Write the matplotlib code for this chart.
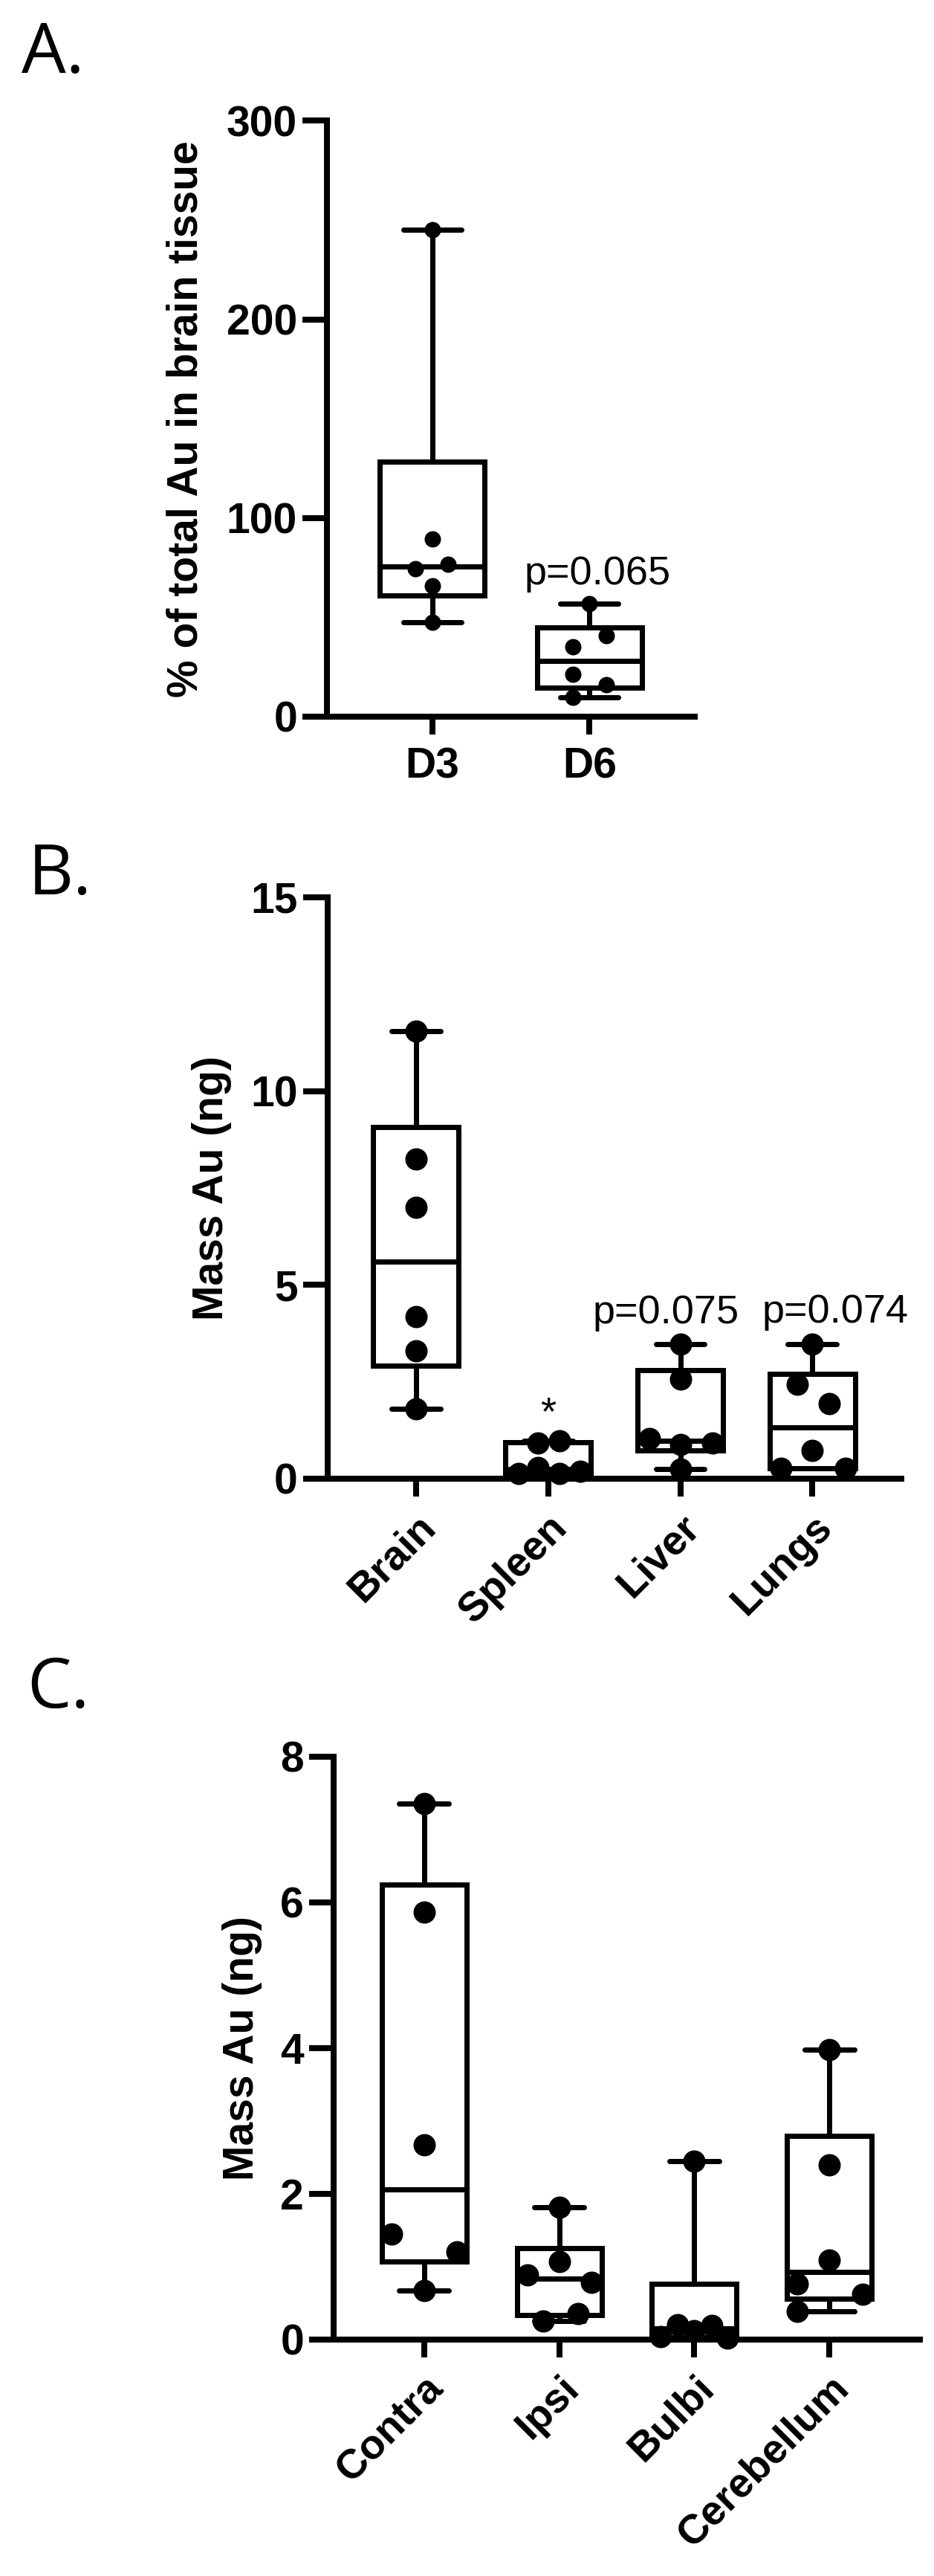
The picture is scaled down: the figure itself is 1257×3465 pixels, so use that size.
import numpy as np
import matplotlib
matplotlib.use("Agg")
import matplotlib.pyplot as plt

# ---------------- data ----------------
# Panel A
a_categories = ["D3", "D6"]
a_d3 = [245.3, 89.4, 74.4, 76.9, 65.7, 47.6]
a_d6 = [57.0, 40.8, 35.2, 21.2, 16.2, 9.6]
a_yticks = [0, 100, 200, 300]
a_ylabel = "% of total Au in brain tissue"
a_ptext = ["", "p=0.065"]
a_pvalue_y = [0, 66.6]

# Panel B
b_categories = ["Brain", "Spleen", "Liver", "Lungs"]
b_brain = [11.55, 8.25, 7.01, 4.19, 3.30, 1.80]
b_spleen = [0.92, 0.97, 0.13, 0.29, 0.13, 0.19]
b_liver = [3.47, 2.57, 1.04, 0.88, 0.93, 0.24]
b_lungs = [3.47, 2.44, 1.93, 0.72, 0.27, 0.27]
b_yticks = [0, 5, 10, 15]
b_ylabel = "Mass Au (ng)"
b_ptext = ["", "*", "p=0.075", "p=0.074"]
b_pvalue_y = [0, 1.40, 4.0, 4.03]

# Panel C
c_categories = ["Contra", "Ipsi", "Bulbi", "Cerebellum"]
c_contra = [7.36, 5.87, 2.67, 1.45, 1.20, 0.67]
c_ipsi = [1.82, 1.07, 0.89, 0.79, 0.26, 0.36]
c_bulbi = [2.45, 0.04, 0.20, 0.12, 0.19, 0.02]
c_cerebellum = [3.98, 2.40, 1.09, 0.77, 0.62, 0.385]
c_yticks = [0, 2, 4, 6, 8]
c_ylabel = "Mass Au (ng)"

# ---------------- layout / style (not data) ----------------
a_jitter = [[0, 0, -0.107, 0.10, 0, 0], [0, 0.107, -0.107, -0.107, 0.107, -0.107]]
b_jitter = [[0, 0, 0, 0, 0, 0],
            [-0.075, 0.084, -0.225, -0.075, 0.084, 0.243],
            [0, 0, -0.236, 0, 0.245, 0],
            [0, -0.116, 0.126, 0, -0.236, 0.25]]
c_jitter = [[0, 0, 0, -0.24, 0.245, 0],
            [0, 0, -0.235, 0.24, -0.12, 0.14],
            [0, -0.247, -0.122, 0, 0.128, 0.243],
            [0, 0, 0, -0.24, 0.245, -0.24]]
b_text_dx = [0, 0, -0.11, 0.17]

W, H, DPI = 1257, 3465, 100
PX = 72.0 / DPI  # points per pixel

AX_LW = 8 * PX
BOX_LW = 7 * PX
TICK_FS = 41
LABEL_FS = 41
CAT_FS = 40
P_FS = 39
LETTER_FS = 68
FONT = "Liberation Sans"

plt.rcParams["font.family"] = [FONT, "DejaVu Sans"]


def box_stats(vals):
    q1, med, q3 = np.percentile(vals, [25, 50, 75], method="weibull")
    return dict(med=med, q1=q1, q3=q3, whislo=min(vals), whishi=max(vals), fliers=[])


def panel(ax, groups, jitter, cats, yticks, ylabel, box_w, dot_px, label_x,
          rotate, xpad):
    n = len(groups)
    pos = list(range(n))
    stats = [box_stats(g) for g in groups]
    ax.bxp(stats, positions=pos, widths=box_w, showfliers=False,
           capwidths=0.37,
           boxprops=dict(color="black", linewidth=BOX_LW, solid_joinstyle="miter"),
           whiskerprops=dict(color="black", linewidth=BOX_LW, solid_capstyle="butt"),
           capprops=dict(color="black", linewidth=BOX_LW, solid_capstyle="round"),
           medianprops=dict(color="black", linewidth=BOX_LW, solid_capstyle="butt"),
           zorder=2)
    for i, g in enumerate(groups):
        xs = [pos[i] + d for d in jitter[i]]
        ax.plot(xs, g, "o", color="black", markersize=dot_px * PX,
                markeredgewidth=0, zorder=3, clip_on=False)
    ax.set_xlim(-0.67, n - 1 + 0.67)
    ax.set_ylim(yticks[0], yticks[-1])
    ax.set_yticks(yticks)
    ax.set_yticklabels([str(t) for t in yticks], fontsize=TICK_FS,
                       fontweight="bold", family=FONT)
    ax.set_xticks(pos)
    if rotate:
        ax.set_xticklabels(cats, rotation=45, ha="right", rotation_mode="anchor",
                           fontsize=CAT_FS, fontweight="bold", family=FONT)
    else:
        ax.set_xticklabels(cats, fontsize=TICK_FS, fontweight="bold", family=FONT)
    for s in ["top", "right"]:
        ax.spines[s].set_visible(False)
    for s in ["left", "bottom"]:
        ax.spines[s].set_linewidth(AX_LW)
        ax.spines[s].set_capstyle("projecting")
    ax.tick_params(axis="y", length=33 * PX, width=AX_LW, pad=5, color="black")
    ax.tick_params(axis="x", length=24 * PX, width=AX_LW, pad=xpad, color="black")
    ax.set_ylabel(ylabel, fontsize=LABEL_FS, fontweight="bold", family=FONT)
    ax.yaxis.set_label_coords(label_x, 0.5)
    ax.set_facecolor("none")
    return pos


fig = plt.figure(figsize=(W / DPI, H / DPI), dpi=DPI, facecolor="white")


def add_axes_px(x0, x1, ytop, ybot):
    return fig.add_axes([x0 / W, 1 - ybot / H, (x1 - x0) / W, (ybot - ytop) / H])


# Panel A
axA = add_axes_px(440, 935, 162.5, 964)
posA = panel(axA, [a_d3, a_d6], a_jitter, a_categories, a_yticks, a_ylabel,
             0.665, 22, -0.329, False, 12)
for i, t in enumerate(a_ptext):
    if t:
        axA.text(posA[i] + 0.05, a_pvalue_y[i], t, fontsize=P_FS, ha="center",
                 va="baseline", family=FONT)

# Panel B
axB = add_axes_px(440.5, 1212.6, 1207, 1989)
posB = panel(axB, [b_brain, b_spleen, b_liver, b_lungs], b_jitter, b_categories,
             b_yticks, b_ylabel, 0.648, 30, -0.1664, True, 11)
for i, t in enumerate(b_ptext):
    if t:
        axB.text(posB[i] + b_text_dx[i], b_pvalue_y[i], t, fontsize=P_FS,
                 ha="center", va="baseline", family=FONT)

# Panel C
axC = add_axes_px(449, 1238, 2363, 3147)
panel(axC, [c_contra, c_ipsi, c_bulbi, c_cerebellum], c_jitter, c_categories,
      c_yticks, c_ylabel, 0.626, 30, -0.1217, True, 11)

# Panel letters
for letter, x, yb in [("A.", 29, 98), ("B.", 38, 1203), ("C.", 36, 2297)]:
    fig.text(x / W, 1 - yb / H, letter, fontsize=LETTER_FS,
             family=["Open Sans", "DejaVu Sans"], va="baseline", ha="left")

fig.savefig("out.png", dpi=DPI, facecolor="white")
